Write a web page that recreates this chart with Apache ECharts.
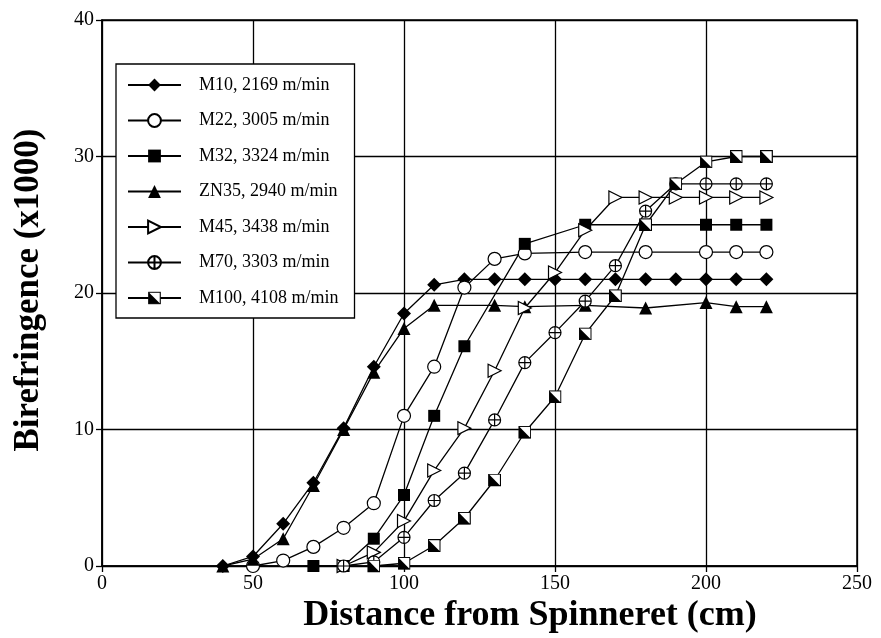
<!DOCTYPE html>
<html>
<head>
<meta charset="utf-8">
<script src="https://cdn.jsdelivr.net/npm/echarts@6/dist/echarts.min.js"></script>
<style>
  html, body { margin: 0; padding: 0; background: #fff; }
  #chart { width: 881px; height: 638px; }
</style>
</head>
<body>
<div id="chart"></div>
<script>
// Birefringence profiles along the spinline
const seriesNames = [
  'M10, 2169 m/min', 'M22, 3005 m/min', 'M32, 3324 m/min', 'ZN35, 2940 m/min',
  'M45, 3438 m/min', 'M70, 3303 m/min', 'M100, 4108 m/min'
];

const m10X  = [40, 50, 60, 70, 80, 90, 100, 110, 120, 130, 140, 150, 160, 170, 180, 190, 200, 210, 220];
const m10Y  = [0, 0.7, 3.1, 6.1, 10.1, 14.6, 18.5, 20.6, 21, 21, 21, 21, 21, 21, 21, 21, 21, 21, 21];

const m22X  = [50, 60, 70, 80, 90, 100, 110, 120, 130, 140, 160, 180, 200, 210, 220];
const m22Y  = [0, 0.4, 1.4, 2.8, 4.6, 11, 14.6, 20.4, 22.5, 22.9, 23, 23, 23, 23, 23];

const m32X  = [70, 80, 90, 100, 110, 120, 140, 160, 180, 200, 210, 220];
const m32Y  = [0, 0, 2, 5.2, 11, 16.1, 23.6, 25, 25, 25, 25, 25];

const zn35X = [40, 50, 60, 70, 80, 90, 100, 110, 130, 140, 160, 180, 200, 210, 220];
const zn35Y = [0, 0.5, 2, 5.9, 10, 14.2, 17.4, 19.1, 19.1, 19, 19.1, 18.9, 19.3, 19, 19];

const m45X  = [80, 90, 100, 110, 120, 130, 140, 150, 160, 170, 180, 190, 200, 210, 220];
const m45Y  = [0, 1, 3.3, 7, 10.1, 14.3, 18.9, 21.5, 24.6, 27, 27, 27, 27, 27, 27];

const m70X  = [80, 90, 100, 110, 120, 130, 140, 150, 160, 170, 180, 190, 200, 210, 220];
const m70Y  = [0, 0.3, 2.1, 4.8, 6.8, 10.7, 14.9, 17.1, 19.4, 22, 26, 28, 28, 28, 28];

const m100X = [90, 100, 110, 120, 130, 140, 150, 160, 170, 180, 190, 200, 210, 220];
const m100Y = [0, 0.2, 1.5, 3.5, 6.3, 9.8, 12.4, 17, 19.8, 25, 28, 29.6, 30, 30];

const xTicks = [0, 50, 100, 150, 200, 250];
const yTicks = [0, 10, 20, 30, 40];

const pairs = (xs, ys) => xs.map((x, i) => [x, ys[i]]);

// Marker shapes
const crossCircle = 'path://M0,-10A10,10,0,1,1,0,10A10,10,0,1,1,0,-10ZM-10,0L10,0M0,-10L0,10';
const halfSquareSvg =
  "<svg xmlns='http://www.w3.org/2000/svg' width='26' height='26' viewBox='0 0 26 26'>" +
  "<rect x='1.2' y='1.2' width='23.6' height='23.6' fill='white' stroke='black' stroke-width='2.4'/>" +
  "<path d='M1.2 1.2L24.8 24.8L1.2 24.8Z' fill='black'/></svg>";
const halfSquare = 'image://data:image/svg+xml;charset=utf-8,' + encodeURIComponent(halfSquareSvg);

const FONT = '"Liberation Serif", "Times New Roman", serif';

function lineSeries(name, xs, ys, symbol, size, fill, extra) {
  return Object.assign({
    name: name,
    type: 'line',
    data: pairs(xs, ys),
    symbol: symbol,
    symbolSize: size,
    showAllSymbol: true,
    lineStyle: { color: '#000', width: 1.3 },
    itemStyle: { color: fill, borderColor: '#000', borderWidth: fill === '#000' ? 0 : 1.2 },
    emphasis: { disabled: true },
    animation: false
  }, extra || {});
}

const series = [
  lineSeries(seriesNames[0], m10X, m10Y, 'diamond', 14, '#000'),
  lineSeries(seriesNames[1], m22X, m22Y, 'circle', 13, '#fff'),
  lineSeries(seriesNames[2], m32X, m32Y, 'rect', 12, '#000'),
  lineSeries(seriesNames[3], zn35X, zn35Y, 'triangle', 13, '#000'),
  lineSeries(seriesNames[4], m45X, m45Y, 'triangle', 13, '#fff', { symbolRotate: -90 }),
  lineSeries(seriesNames[5], m70X, m70Y, crossCircle, 12, '#fff'),
  lineSeries(seriesNames[6], m100X, m100Y, halfSquare, 13, '#000')
];

const chart = echarts.init(document.getElementById('chart'), null, { renderer: 'canvas' });

chart.setOption({
  backgroundColor: '#fff',
  animation: false,
  grid: {
    left: 102, right: 24, top: 20, bottom: 72,
    show: true, borderColor: '#000', borderWidth: 1.5, backgroundColor: 'transparent'
  },
  xAxis: {
    type: 'value',
    min: xTicks[0], max: xTicks[xTicks.length - 1], interval: 50,
    axisLine: { show: true, lineStyle: { color: '#000', width: 1.5 } },
    axisTick: { show: true, length: 6, lineStyle: { color: '#000', width: 1.3 } },
    axisLabel: { color: '#000', fontFamily: FONT, fontSize: 20, margin: 8 },
    splitLine: { show: true, lineStyle: { color: '#000', width: 1.3 } }
  },
  yAxis: {
    type: 'value',
    min: yTicks[0], max: yTicks[yTicks.length - 1], interval: 10,
    axisLine: { show: true, lineStyle: { color: '#000', width: 1.5 } },
    axisTick: { show: true, length: 6, lineStyle: { color: '#000', width: 1.3 } },
    axisLabel: { color: '#000', fontFamily: FONT, fontSize: 20, margin: 8 },
    splitLine: { show: true, lineStyle: { color: '#000', width: 1.3 } }
  },
  legend: {
    orient: 'vertical',
    left: 116, top: 64,
    data: seriesNames,
    itemWidth: 53, itemHeight: 16,
    itemGap: 15.5,
    padding: [11, 16, 10, 11],
    backgroundColor: '#fff',
    borderColor: '#000', borderWidth: 1.3,
    selectedMode: false,
    textStyle: { color: '#000', fontFamily: FONT, fontSize: 18, lineHeight: 20, padding: [0, 0, 0, 13] }
  },
  graphic: [
    {
      type: 'text',
      x: 530, y: 598,
      style: {
        text: 'Distance from Spinneret (cm)',
        font: 'bold 36px ' + FONT, fill: '#000',
        textAlign: 'center', textVerticalAlign: 'top'
      }
    },
    {
      type: 'text',
      x: 29, y: 290, rotation: Math.PI / 2,
      style: {
        text: 'Birefringence (x1000)',
        font: 'bold 35px ' + FONT, fill: '#000',
        textAlign: 'center', textVerticalAlign: 'middle'
      }
    }
  ],
  series: series
});
</script>
</body>
</html>
